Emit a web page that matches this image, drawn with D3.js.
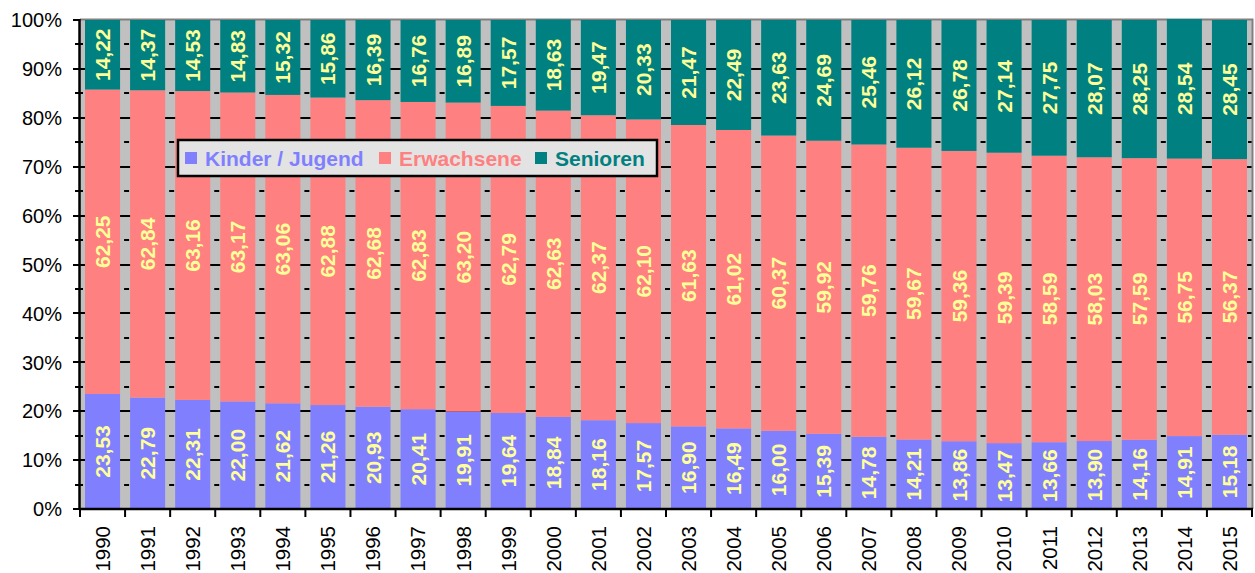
<!DOCTYPE html>
<html><head><meta charset="utf-8">
<script src="https://cdn.jsdelivr.net/npm/d3@7"></script>
<style>body{margin:0;background:#fff}svg{display:block}text{font-family:"Liberation Sans",Arial,sans-serif}</style>
</head><body>
<svg id="c" width="1255" height="573"></svg>
<script>
const years = ["1990","1991","1992","1993","1994","1995","1996","1997","1998","1999","2000","2001","2002","2003","2004","2005","2006","2007","2008","2009","2010","2011","2012","2013","2014","2015"];
const kinder = [23.53,22.79,22.31,22.00,21.62,21.26,20.93,20.41,19.91,19.64,18.84,18.16,17.57,16.90,16.49,16.00,15.39,14.78,14.21,13.86,13.47,13.66,13.90,14.16,14.91,15.18];
const erwachsene = [62.25,62.84,63.16,63.17,63.06,62.88,62.68,62.83,63.20,62.79,62.63,62.37,62.10,61.63,61.02,60.37,59.92,59.76,59.67,59.36,59.39,58.59,58.03,57.59,56.75,56.37];
const senioren = [14.22,14.37,14.53,14.83,15.32,15.86,16.39,16.76,16.89,17.57,18.63,19.47,20.33,21.47,22.49,23.63,24.69,25.46,26.12,26.78,27.14,27.75,28.07,28.25,28.54,28.45];
const seriesNames = ["Kinder / Jugend","Erwachsene","Senioren"];
const colors = ["#8080FF","#FF8080","#008080"];
const yTicks = [0,10,20,30,40,50,60,70,80,90,100];

const svg = d3.select("#c");
const L = 80, R = 1252, T = 20, B = 509;
const x = d3.scaleBand().domain(years).range([L, R]).paddingInner(10/45).paddingOuter(5/45);
const xb = d3.scaleBand().domain(years).range([L, R]);
const y = d3.scaleLinear().domain([0,100]).range([B, T]);

svg.append("rect").attr("x",L).attr("y",T).attr("width",R-L).attr("height",B-T).attr("fill","#C0C0C0");
const minor = d3.range(5,100,10);
minor.forEach(v=>{
  years.forEach((yr,i)=>{
    if(i===0) return;
    svg.append("line").attr("x1",xb(yr)-1).attr("x2",xb(yr)+4).attr("y1",Math.round(y(v))).attr("y2",Math.round(y(v)))
      .attr("stroke","#000").attr("stroke-width",2);
  });
  svg.append("line").attr("x1",R-4).attr("x2",R).attr("y1",Math.round(y(v))).attr("y2",Math.round(y(v))).attr("stroke","#000").attr("stroke-width",2);
});
yTicks.filter(v=>v>0&&v<100).forEach(v=>{
  svg.append("line").attr("x1",L).attr("x2",R).attr("y1",Math.round(y(v))).attr("y2",Math.round(y(v)))
    .attr("stroke","#000").attr("stroke-width",2);
});
svg.append("path").attr("d",`M${L},${T-0.5}H${R+0.5}V${B}`).attr("fill","none").attr("stroke","#808080").attr("stroke-width",2);

const data = years.map((yr,i)=>({year:yr, k:kinder[i], e:erwachsene[i], s:senioren[i]}));
const stack = d3.stack().keys(["k","e","s"])(data);
const g = svg.append("g");
stack.forEach((layer,li)=>{
  g.selectAll(null).data(layer).enter().append("rect")
    .attr("x",d=>x(d.data.year)).attr("width",x.bandwidth())
    .attr("y",d=>y(d[1])).attr("height",d=>y(d[0])-y(d[1]))
    .attr("fill",colors[li]);
});
stack.forEach((layer,li)=>{
  g.selectAll(null).data(layer).enter().append("text")
    .attr("transform",d=>`translate(${x(d.data.year)+x.bandwidth()/2},${(y(d[0])+y(d[1]))/2}) rotate(-90)`)
    .attr("text-anchor","middle").attr("dy","0.36em")
    .attr("font-size","21px").attr("font-weight","bold").attr("fill","#FFFF99")
    .text(d=>d3.format(".2f")(d[1]-d[0]).replace(".",","));
});

svg.append("line").attr("x1",L-0.5).attr("x2",L-0.5).attr("y1",T-1).attr("y2",B+1).attr("stroke","#000").attr("stroke-width",2.5);
yTicks.forEach(v=>{
  svg.append("line").attr("x1",L-7).attr("x2",L).attr("y1",Math.round(y(v))).attr("y2",Math.round(y(v))).attr("stroke","#000").attr("stroke-width",2);
  svg.append("text").attr("x",62).attr("y",y(v)).attr("dy","0.36em").attr("text-anchor","end")
    .attr("font-size","20px").attr("fill","#000").text(v+"%");
});
minor.forEach(v=>{
  svg.append("line").attr("x1",L-5).attr("x2",L+3).attr("y1",Math.round(y(v))).attr("y2",Math.round(y(v))).attr("stroke","#000").attr("stroke-width",2);
});
svg.append("line").attr("x1",L-1).attr("x2",R+1).attr("y1",B).attr("y2",B).attr("stroke","#000").attr("stroke-width",2.5);
years.concat(["end"]).forEach((yr,i)=>{
  const xx = i<years.length ? xb(yr) : R;
  svg.append("line").attr("x1",xx).attr("x2",xx).attr("y1",B).attr("y2",B+8).attr("stroke","#000").attr("stroke-width",2);
});
years.forEach(yr=>{
  svg.append("text").attr("transform",`translate(${xb(yr)+xb.bandwidth()/2},526) rotate(-90)`)
    .attr("text-anchor","end").attr("dy","0.36em").attr("font-size","20.5px").attr("fill","#000").text(yr);
});

const lg = svg.append("g");
lg.append("rect").attr("x",178).attr("y",140).attr("width",479).attr("height",36).attr("fill","#E3E3E3").attr("stroke","#000").attr("stroke-width",2.5);
const lx = [185, 379, 535];
seriesNames.forEach((n,i)=>{
  lg.append("rect").attr("x",lx[i]).attr("y",152).attr("width",12).attr("height",12).attr("fill",colors[i]);
  lg.append("text").attr("x",lx[i]+20).attr("y",158).attr("dy","0.36em").attr("font-size","21px").attr("font-weight","bold").attr("fill",colors[i]).text(n);
});
</script>
</body></html>
